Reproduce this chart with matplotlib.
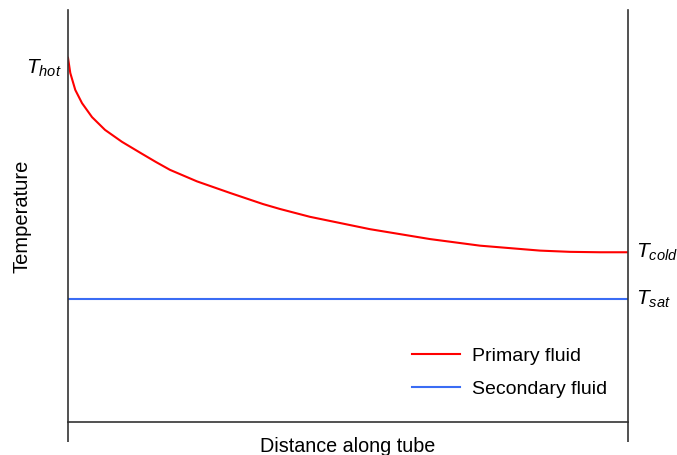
import matplotlib
matplotlib.use("Agg")
import matplotlib.pyplot as plt

plt.rcParams['font.family'] = ['Liberation Sans', 'DejaVu Sans']
plt.rcParams['mathtext.fontset'] = 'custom'
plt.rcParams['mathtext.rm'] = 'Liberation Sans'
plt.rcParams['mathtext.it'] = 'Liberation Sans:italic'

# Distance along tube (fraction of length) and temperatures (arbitrary units)
distance = [0.0, 0.0041, 0.0130, 0.0250, 0.0429, 0.0661, 0.0964, 0.1321,
            0.1571, 0.1821, 0.2304, 0.2893, 0.3482, 0.3786, 0.4321, 0.4857,
            0.5393, 0.5929, 0.6464, 0.6911, 0.7357, 0.7893, 0.8429, 0.8964,
            0.9500, 1.0]
primary = [0.884, 0.847, 0.806, 0.774, 0.740, 0.709, 0.680, 0.651,
           0.631, 0.612, 0.584, 0.556, 0.529, 0.517, 0.498, 0.483,
           0.468, 0.456, 0.444, 0.436, 0.428, 0.422, 0.416, 0.413,
           0.412, 0.412]
secondary_T = 0.2985
labels = ["Primary fluid", "Secondary fluid"]

fig = plt.figure(figsize=(6.77, 4.55), dpi=100)
ax = fig.add_axes([68/677, 33/455, 560/677, 412/455])

ax.plot(distance, primary, color='#ff0000', lw=1.5, label=labels[0],
        solid_joinstyle='round')
ax.plot([distance[0], distance[-1]], [secondary_T, secondary_T],
        color='#3a6cf4', lw=1.5, label=labels[1])

ax.set_xlim(0, 1)
ax.set_ylim(0, 1)
for s in ['left', 'right', 'bottom']:
    ax.spines[s].set_color('#333333')
    ax.spines[s].set_linewidth(1.2)
ax.spines['top'].set_visible(False)

ax.set_xticks([0, 1])
ax.set_xticklabels([])
ax.tick_params(axis='x', direction='out', length=14.4, width=1.2, color='#333333')
ax.set_yticks([])

ax.set_xlabel("Distance along tube", fontsize=14.2)
ax.xaxis.set_label_coords(0.5, -0.036)
ax.set_ylabel("Temperature", fontsize=14.5)
ax.yaxis.set_label_coords(-0.066, 0.5)

ax.text(-0.012, primary[0] - 0.025, r"$T_{hot}$", ha='right', va='center',
        fontsize=15, transform=ax.transAxes)
ax.text(1.015, primary[-1], r"$T_{cold}$", ha='left', va='center',
        fontsize=15, transform=ax.transAxes)
ax.text(1.015, secondary_T, r"$T_{sat}$", ha='left', va='center',
        fontsize=15, transform=ax.transAxes)

ax.legend(loc='upper left', bbox_to_anchor=(0.614, 0.1813), frameon=False,
          borderpad=0, borderaxespad=0,
          fontsize=14, handlelength=2.47, handletextpad=0.62, labelspacing=0.8)

fig.savefig("out.png", dpi=100)
